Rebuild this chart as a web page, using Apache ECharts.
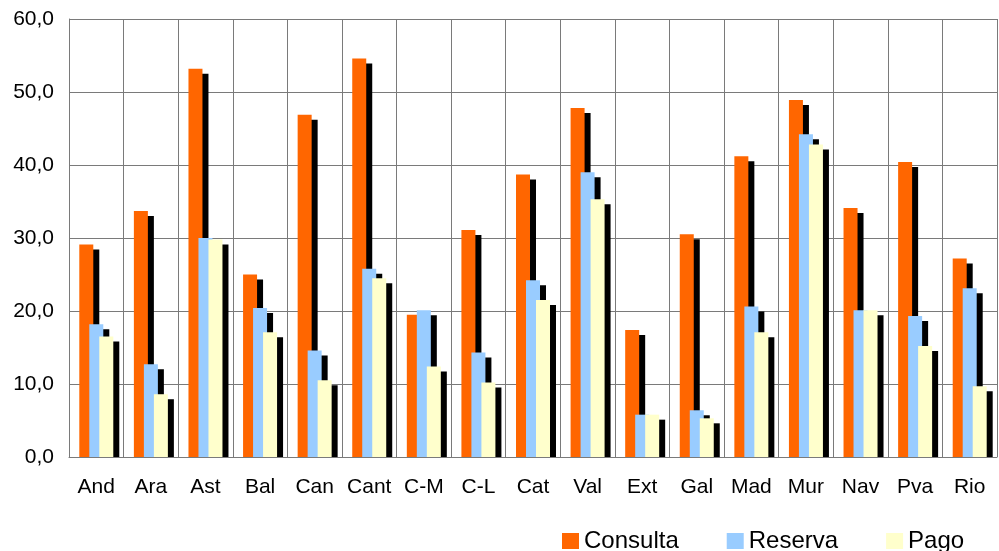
<!DOCTYPE html>
<html>
<head>
<meta charset="utf-8">
<script src="https://cdn.jsdelivr.net/npm/echarts@6/dist/echarts.min.js"></script>
<style>html,body{margin:0;padding:0;background:#fff}#c{width:999px;height:551px}</style>
</head>
<body>
<div id="c"></div>
<script>
const categories = ['And','Ara','Ast','Bal','Can','Cant','C-M','C-L','Cat','Val','Ext','Gal','Mad','Mur','Nav','Pva','Rio'];
const consulta = [29.1, 33.7, 53.2, 25.0, 46.9, 54.6, 19.5, 31.1, 38.7, 47.8, 17.4, 30.5, 41.2, 48.9, 34.1, 40.4, 27.2];
const reserva  = [18.2, 12.7, 30.0, 20.4, 14.6, 25.8, 20.1, 14.3, 24.2, 39.0, 5.8, 6.4, 20.6, 44.2, 20.1, 19.3, 23.1];
const pago     = [16.5, 8.6, 29.8, 17.1, 10.5, 24.5, 12.4, 10.2, 21.5, 35.3, 5.8, 5.3, 17.1, 42.8, 20.1, 15.2, 9.7];
const yTickLabels = ['0,0','10,0','20,0','30,0','40,0','50,0','60,0'];

const font = 'Liberation Sans, Arial, sans-serif';
const BAR_W = 14, STEP = 10, SH_X = 6, SH_Y = 5;
const chart = echarts.init(document.getElementById('c'), null, {renderer: 'canvas'});

function barSeries(name, data, color, idx) {
  return {
    name: name, type: 'custom',
    data: data.map(function (v, i) { return [i, v]; }),
    itemStyle: {color: color},
    encode: {x: 0, y: 1},
    animation: false,
    renderItem: function (params, api) {
      const top = api.coord([api.value(0), api.value(1)]);
      const base = api.coord([api.value(0), 0]);
      const left = top[0] - (3 * BAR_W - 2 * (BAR_W - STEP)) / 2 + idx * STEP;
      const h = base[1] - top[1];
      return {
        type: 'group',
        children: [
          {type: 'rect', shape: {x: left + SH_X, y: top[1] + SH_Y, width: BAR_W, height: Math.max(0, h - SH_Y)},
           style: {fill: '#000'}},
          {type: 'rect', shape: {x: left, y: top[1], width: BAR_W, height: h},
           style: {fill: color}}
        ]
      };
    }
  };
}
chart.setOption({
  animation: false,
  grid: {left: 69, right: 2, top: 19, bottom: 94},
  legend: {
    left: 557, top: 524, itemWidth: 17, itemHeight: 16, itemGap: 48,
    icon: 'rect',
    textStyle: {fontFamily: font, fontSize: 24, color: '#000'},
    data: ['Consulta','Reserva','Pago']
  },
  xAxis: {
    type: 'category', data: categories,
    axisLine: {lineStyle: {color: '#7a7a7a', width: 1}},
    axisTick: {show: false},
    splitLine: {show: true, interval: 0, lineStyle: {color: '#7a7a7a', width: 1}},
    axisLabel: {interval: 0, fontFamily: font, fontSize: 21, color: '#000', margin: 20}
  },
  yAxis: {
    type: 'value', min: 0, max: 60, interval: 10,
    axisLine: {show: true, lineStyle: {color: '#7a7a7a', width: 1}},
    axisTick: {show: false},
    splitLine: {show: true, lineStyle: {color: '#7a7a7a', width: 1}},
    axisLabel: {fontFamily: font, fontSize: 21, color: '#000', margin: 15,
      formatter: function (v) { return yTickLabels[Math.round(v / 10)]; }}
  },
  series: [
    barSeries('Consulta', consulta, '#FF6600', 0),
    barSeries('Reserva', reserva, '#99CCFF', 1),
    barSeries('Pago', pago, '#FFFFCC', 2)
  ]
});
</script>
</body>
</html>
